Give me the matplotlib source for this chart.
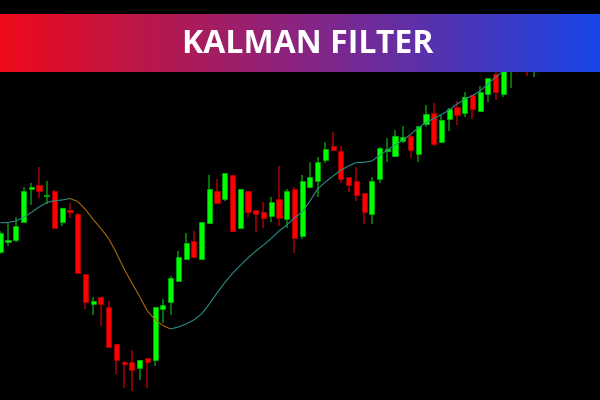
import numpy as np
import matplotlib
matplotlib.use("Agg")
import matplotlib.pyplot as plt
from matplotlib.colors import LinearSegmentedColormap
from matplotlib.collections import LineCollection

# ---- data ----
opens = [148, 158, 160, 178.3, 211.3, 215, 204, 209, 178, 190,
         186, 126, 96.3, 102.7, 93, 55.7, 38, 38, 32.3, 42,
         40, 90.7, 98.3, 119.3, 140.7, 159, 140.7, 176.7, 209, 201,
         225, 172.3, 209, 190, 187.7, 184.3, 201.3, 180.7, 210.7, 164.3,
         212.7, 219, 240.3, 254.3, 249, 222.7, 219, 207.3, 186, 220.7,
         249.5, 244, 259.3, 264.3, 246, 275.7, 287.3, 257.7, 281, 293.3,
         287.3, 304.7, 289, 306.3, 326, 306.3, 332, 345, 355, 350]
highs = [169, 177, 183.3, 213.3, 217.3, 233, 219, 210, 192.5, 197.3,
         187, 126.5, 102.7, 103, 98.7, 56, 39, 50, 40.5, 42.5,
         93.5, 100.7, 124, 149.3, 166.7, 169.3, 178.5, 225, 221, 227,
         225.5, 211, 209.5, 190.5, 197.7, 202.7, 234.3, 210.7, 213.3, 224.7,
         238, 242.7, 258.3, 267.7, 254, 223, 232.7, 207.5, 222.7, 253,
         262.3, 270, 274, 265, 274.5, 295, 297.3, 285, 292, 299,
         308.3, 305, 314.3, 322.5, 332, 338, 355, 365, 360, 370]
lows = [146, 154, 158.3, 178, 195, 202, 196, 172, 174.3, 182.3,
        127, 91, 85, 74.3, 53, 26, 12.3, 9, 20, 12.3,
        34, 76.7, 85, 118, 140, 142, 140, 176, 196.5, 199.3,
        168, 172, 182.7, 168.3, 172.3, 178.3, 174, 172.3, 146.7, 160.7,
        212, 203.3, 236.7, 249.5, 217.3, 207.7, 199.3, 176, 176, 217.3,
        238.3, 243.5, 256.7, 242.3, 238.3, 273.3, 254.3, 257, 269.3, 275,
        283.3, 281, 288.5, 297.7, 300, 302.7, 312, 335, 324, 323.3]
closes = [167, 160, 174.3, 209, 213, 209.3, 205, 172.3, 191.7, 187.7,
          127.3, 98.3, 99, 96.3, 53.3, 40, 36, 30, 40, 38,
          93, 95, 122.3, 143, 156.7, 142.7, 178, 211, 197.3, 226.7,
          168.7, 210.7, 188.3, 186, 182.3, 197.7, 182.3, 209, 162.3, 219,
          222.7, 238, 250.7, 250.3, 220.7, 215, 205, 188, 219, 252.3,
          251, 264, 262.7, 250.3, 274, 285.7, 256, 280, 291.3, 285,
          302.7, 290.7, 308.3, 321.7, 308.3, 334, 350, 360, 340, 362]
kalman = [177.3, 177.5, 179, 182.7, 187.5, 193, 197.5, 199.3, 200, 201.5,
          198.5, 190.5, 180.5, 171.5, 161.5, 147, 131, 117, 103.5, 89,
          80.5, 74.5, 71, 73, 76, 80, 86, 96, 107, 117.5,
          126.5, 134.5, 142, 149, 155, 161.5, 169, 175, 182, 188,
          199, 211, 218, 224, 230, 234, 237.5, 237.7, 239, 244.5,
          250, 255, 259.5, 265.7, 272, 277.5, 281.5, 285.5, 290, 296,
          300.5, 304.5, 309.2, 316, 323, 329]
title = "KALMAN FILTER"

# ---- style ----
BULL_BODY, BEAR_BODY = "#00FF00", "#FF0000"
BULL_WICK, BEAR_WICK = "#0B7A0B", "#900000"
UP_LINE, DOWN_LINE = "#2A8C89", "#A8690C"

fig = plt.figure(figsize=(6, 4), dpi=100, facecolor="black")
ax = fig.add_axes([0, 0, 1, 1])
ax.set_facecolor("black")

n = len(opens)
x = np.arange(n)
o = np.array(opens); h = np.array(highs); l = np.array(lows); c = np.array(closes)
bull = c >= o

ax.vlines(x[bull], l[bull], h[bull], color=BULL_WICK, linewidth=1.3, zorder=2)
ax.vlines(x[~bull], l[~bull], h[~bull], color=BEAR_WICK, linewidth=1.3, zorder=2)
w = 0.66
ax.bar(x[bull], (c - o)[bull], bottom=o[bull], width=w, color=BULL_BODY,
       edgecolor="#00B400", linewidth=0.5, zorder=3)
ax.bar(x[~bull], (o - c)[~bull], bottom=c[~bull], width=w, color=BEAR_BODY,
       edgecolor="#B40000", linewidth=0.5, zorder=3)

k = np.array(kalman)
kx = np.arange(len(k))
pts = np.column_stack([kx, k]).reshape(-1, 1, 2)
segs = np.concatenate([pts[:-1], pts[1:]], axis=1)
cols = [UP_LINE if k[i + 1] >= k[i] else DOWN_LINE for i in range(len(k) - 1)]
ax.add_collection(LineCollection(segs, colors=cols, linewidths=0.8, zorder=4))

ax.set_xlim(-0.04, 77.48)
ax.set_ylim(0, 400)
ax.axis("off")

# ---- banner ----
bax = fig.add_axes([0, 1 - 71.7 / 400, 1, 57.4 / 400])
cmap = LinearSegmentedColormap.from_list("ban", ["#EF0A1A", "#B8184C", "#8A2482", "#5234B4", "#1747E8"])
bax.imshow(np.linspace(0, 1, 512)[None, :], cmap=cmap, aspect="auto", extent=[0, 1, 0, 1])
bax.set_xlim(0, 1); bax.set_ylim(0, 1)
bax.axis("off")
bax.text(0.513, 0.32, title, color="white", fontsize=23, fontweight="bold",
         family=["Open Sans", "DejaVu Sans"], ha="center", va="baseline")

fig.savefig("out.png", dpi=100, facecolor="black")
